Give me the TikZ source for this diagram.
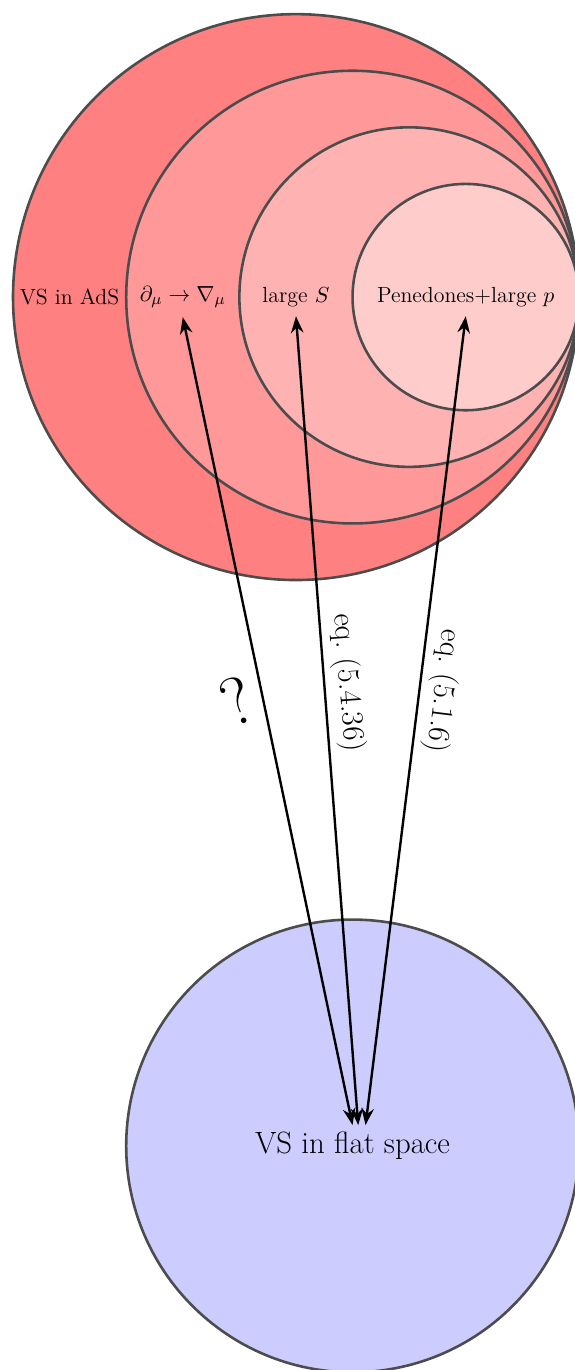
\documentclass[tikz,border=0pt]{standalone}
\usepackage{amsmath}
\usepackage{amssymb}
\usepackage{tikz}
\usepackage{xcolor}
\usetikzlibrary{arrows.meta}
\tikzset{
  region/.style={draw=black!70, line width=1.3pt},
  tag/.style={font=\fontsize{11}{13}\selectfont, inner sep=4.5pt},
  link/.style={draw, very thick, {Stealth}-{Stealth}},
  eqlabel/.style={font=\fontsize{15.5}{18}\selectfont, sloped},
}

\begin{document}
\begin{tikzpicture}
  \useasboundingbox (-5.23,-18.96) rectangle (4.93,5.25);

  % nested AdS regions
  \draw[region, fill=red!50] (0,0) circle (5);
  \draw[region, fill=red!40] (1,0) circle (4);
  \draw[region, fill=red!30] (2,0) circle (3);
  \draw[region, fill=red!20] (3,0) circle (2);

  \node[tag] (ads) at (-4,0) {VS in AdS};
  \node[tag] (cov) at (-2,0) {$\partial_\mu \to \nabla_\mu$};
  \node[tag] (bigS) at (0,0) {large $S$};
  \node[tag] (pen) at (3,0) {Penedones+large $p$};

  % flat space
  \draw[region, fill=blue!20] (1,-15) circle (4);
  \node[font=\fontsize{15.5}{18}\selectfont] (flat) at (1,-15) {VS in flat space};

  \draw[link] (cov.south) --
    node[pos=0.465, left=2pt, rotate=22, font=\fontsize{34}{40}\selectfont] {?}
    ([xshift=0cm]flat.north);
  \draw[link] (bigS.south) --
    node[pos=0.455, eqlabel, above] {eq.~(5.4.36)}
    ([xshift=0.1cm]flat.north);
  \draw[link] (pen.south) --
    node[pos=0.46, eqlabel, allow upside down, above] {eq.~(5.1.6)}
    ([xshift=0.23cm]flat.north);
\end{tikzpicture}
\end{document}
